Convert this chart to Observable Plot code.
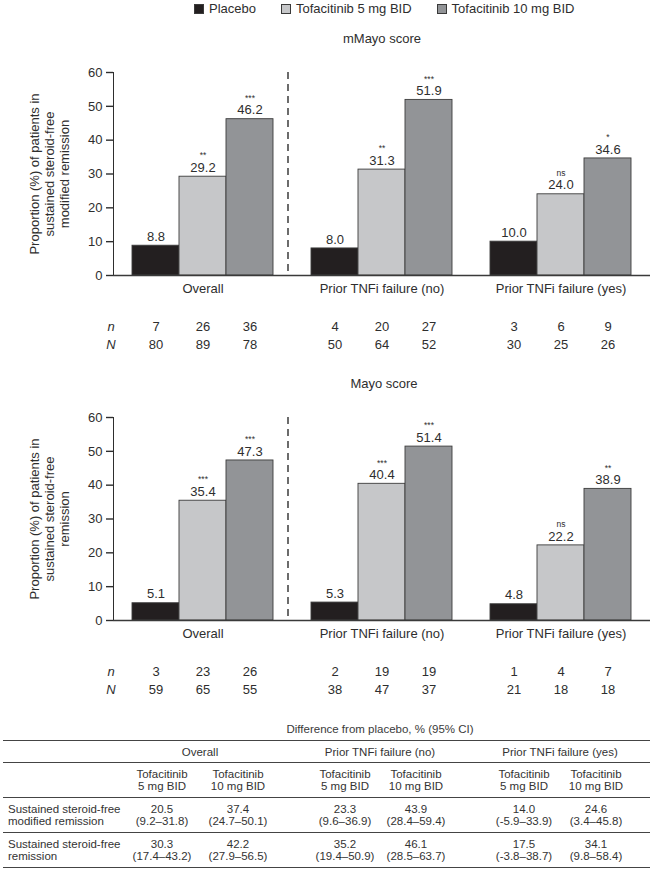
<!DOCTYPE html>
<html>
<head>
<meta charset="utf-8">
<script src="https://cdn.jsdelivr.net/npm/d3@7"></script>
<script src="https://cdn.jsdelivr.net/npm/@observablehq/plot@0.6"></script>
<style>
  html, body { margin: 0; padding: 0; background: #fff; }
  body { font-family: "Liberation Sans", Arial, Helvetica, sans-serif; color: #2e2e2e; }
  #page { position: relative; width: 652px; height: 870px; overflow: hidden; }
  .abs { position: absolute; }
  #legend { top: 2px; left: 194px; display: flex; gap: 25px; font-size: 13px; line-height: 13px; }
  #legend .item { display: flex; align-items: center; gap: 5px; }
  #legend .sw { width: 10px; height: 10px; border: 1px solid #3a3a3a; box-sizing: border-box; }
  .title { font-size: 13px; line-height: 16px; transform: translateX(-50%); white-space: nowrap; }
  .chart svg g[aria-label*="axis"] path, .chart svg g[aria-label*="axis"] line { stroke-width: 1.4; }
  #diffTitle { font-size: 11.5px; line-height: 14px; transform: translateX(-50%); white-space: nowrap; color: #3a3a3a; }
  table { border-collapse: collapse; table-layout: fixed; font-size: 11.5px; line-height: 12px; color: #333; }
  td { padding: 0; text-align: center; vertical-align: middle; white-space: pre-line; }
  td.lab { text-align: left; padding-left: 5px; }
  tr.grp td { height: 21px; }
  tr.hdr td, tr.body td { height: 34px; }
  tr { border-bottom: 1.2px solid #444; }
  table { border-top: 1.2px solid #444; }
</style>
</head>
<body>
<div id="page">
  <div id="legend" class="abs"></div>
  <div class="abs title" style="left:382px; top:31px;">mMayo score</div>
  <div id="chart1" class="abs chart" style="left:0; top:60px;"></div>
  <div class="abs title" style="left:384px; top:376px;">Mayo score</div>
  <div id="chart2" class="abs chart" style="left:0; top:405px;"></div>
  <div id="diffTitle" class="abs" style="left:380px; top:722px;">Difference from placebo, % (95% CI)</div>
  <div id="tableWrap" class="abs" style="left:3px; top:740px;"></div>
</div>
<script>
// ---------- data ----------
const groups = ["Overall", "Prior TNFi failure (no)", "Prior TNFi failure (yes)"];
const treatments = ["Placebo", "Tofacitinib 5 mg BID", "Tofacitinib 10 mg BID"];
const treatmentColors = ["#231f20", "#c6c7c9", "#929497"];

// mMayo score panel
const mMayoValues = [[8.8, 29.2, 46.2], [8.0, 31.3, 51.9], [10.0, 24.0, 34.6]];
const mMayoSig = [["", "**", "***"], ["", "**", "***"], ["", "ns", "*"]];
const mMayo_n = [[7, 26, 36], [4, 20, 27], [3, 6, 9]];
const mMayo_N = [[80, 89, 78], [50, 64, 52], [30, 25, 26]];
const mMayoYLabel = "Proportion (%) of patients in\nsustained steroid-free\nmodified remission";

// Mayo score panel
const mayoValues = [[5.1, 35.4, 47.3], [5.3, 40.4, 51.4], [4.8, 22.2, 38.9]];
const mayoSig = [["", "***", "***"], ["", "***", "***"], ["", "ns", "**"]];
const mayo_n = [[3, 23, 26], [2, 19, 19], [1, 4, 7]];
const mayo_N = [[59, 65, 55], [38, 47, 37], [21, 18, 18]];
const mayoYLabel = "Proportion (%) of patients in\nsustained steroid-free\nremission";

const yTicks = [0, 10, 20, 30, 40, 50, 60];

// Table: difference from placebo
const tableGroups = ["Overall", "Prior TNFi failure (no)", "Prior TNFi failure (yes)"];
const tableDoses = ["Tofacitinib\n5 mg BID", "Tofacitinib\n10 mg BID"];
const tableRowLabels = ["Sustained steroid-free\nmodified remission", "Sustained steroid-free\nremission"];
const modifiedDiff = ["20.5", "37.4", "23.3", "43.9", "14.0", "24.6"];
const modifiedCI = ["9.2–31.8", "24.7–50.1", "9.6–36.9", "28.4–59.4", "-5.9–33.9", "3.4–45.8"];
const remissionDiff = ["30.3", "42.2", "35.2", "46.1", "17.5", "34.1"];
const remissionCI = ["17.4–43.2", "27.9–56.5", "19.4–50.9", "28.5–63.7", "-3.8–38.7", "9.8–58.4"];

// ---------- legend ----------
const legend = d3.select("#legend");
treatments.forEach((t, i) => {
  const it = legend.append("div").attr("class", "item");
  it.append("div").attr("class", "sw").style("background", treatmentColors[i]);
  it.append("span").text(t);
});

// ---------- charts ----------
function rows(values, sig, nSmall, nBig) {
  const out = [];
  groups.forEach((g, gi) => treatments.forEach((t, ti) => {
    out.push({group: g, treat: t, value: values[gi][ti], sig: sig[gi][ti], n: nSmall[gi][ti], N: nBig[gi][ti]});
  }));
  return out;
}

function chart(values, sig, nSmall, nBig, yLabel) {
  const data = rows(values, sig, nSmall, nBig);
  const fs = 13;
  return Plot.plot({
    width: 652,
    height: 300,
    marginTop: 12,
    marginBottom: 85,
    marginLeft: 112,
    marginRight: 2,
    style: {fontFamily: '"Liberation Sans", Arial, Helvetica, sans-serif', fontSize: "13px", color: "#2e2e2e", background: "white", overflow: "visible"},
    fx: {domain: groups, padding: 0, axis: null, label: null},
    x: {domain: treatments, paddingInner: 0, paddingOuter: 0.37, axis: null, label: null},
    y: {domain: [0, 60], ticks: yTicks, tickSize: 7, tickPadding: 4, line: true, label: null},
    color: {domain: treatments, range: treatmentColors},
    marks: [
      Plot.barY(data, {fx: "group", x: "treat", y: "value", fill: "treat", stroke: "#3c3c3c", strokeWidth: 0.9}),
      Plot.ruleY([0], {stroke: "#3a3a3a", strokeWidth: 1.5}),
      Plot.ruleX([{group: groups[0], treat: treatments[2]}], {fx: "group", x: "treat", dx: 38, stroke: "#2e2e2e", strokeWidth: 1.4, strokeDasharray: "7,5"}),
      Plot.text(data, {fx: "group", x: "treat", y: "value", text: d => d.value.toFixed(1), dy: -9, fontSize: fs}),
      Plot.text(data, {fx: "group", x: "treat", y: "value", text: "sig", dy: -21, fontSize: 8.5}),
      Plot.text(groups, {fx: d => d, frameAnchor: "bottom", dy: 17, text: d => d, fontSize: fs}),
      Plot.text(data, {fx: "group", x: "treat", frameAnchor: "bottom", dy: 55, text: "n", fontSize: fs}),
      Plot.text(data, {fx: "group", x: "treat", frameAnchor: "bottom", dy: 73, text: "N", fontSize: fs}),
      Plot.text([{group: groups[0], treat: treatments[0], t: "n"}], {fx: "group", x: "treat", frameAnchor: "bottom", dx: -45, dy: 55, text: "t", fontStyle: "italic", fontSize: fs}),
      Plot.text([{group: groups[0], treat: treatments[0], t: "N"}], {fx: "group", x: "treat", frameAnchor: "bottom", dx: -45, dy: 73, text: "t", fontStyle: "italic", fontSize: fs}),
      Plot.text([{group: groups[0], t: yLabel}], {fx: "group", frameAnchor: "left", textAnchor: "middle", dx: -64, rotate: -90, text: "t", lineHeight: 1.15, fontSize: fs})
    ]
  });
}

document.getElementById("chart1").appendChild(chart(mMayoValues, mMayoSig, mMayo_n, mMayo_N, mMayoYLabel));
document.getElementById("chart2").appendChild(chart(mayoValues, mayoSig, mayo_n, mayo_N, mayoYLabel));

// ---------- table ----------
const colWidths = [121, 76, 76, 33, 72, 70, 37, 72, 72, 18];
const table = d3.select("#tableWrap").append("table").style("width", "647px");
const cg = table.append("colgroup");
colWidths.forEach(w => cg.append("col").style("width", w + "px"));

const r1 = table.append("tr").attr("class", "grp");
r1.append("td");
tableGroups.forEach((g, i) => {
  r1.append("td").attr("colspan", 2).text(g);
  r1.append("td");
});

const r2 = table.append("tr").attr("class", "hdr");
r2.append("td");
tableGroups.forEach(() => {
  tableDoses.forEach(d => r2.append("td").text(d));
  r2.append("td");
});

[[modifiedDiff, modifiedCI], [remissionDiff, remissionCI]].forEach(([vals, cis], ri) => {
  const r = table.append("tr").attr("class", "body");
  r.append("td").attr("class", "lab").text(tableRowLabels[ri]);
  tableGroups.forEach((g, gi) => {
    [0, 1].forEach(k => {
      const idx = gi * 2 + k;
      r.append("td").text(vals[idx] + "\n(" + cis[idx] + ")");
    });
    r.append("td");
  });
});
</script>
</body>
</html>
